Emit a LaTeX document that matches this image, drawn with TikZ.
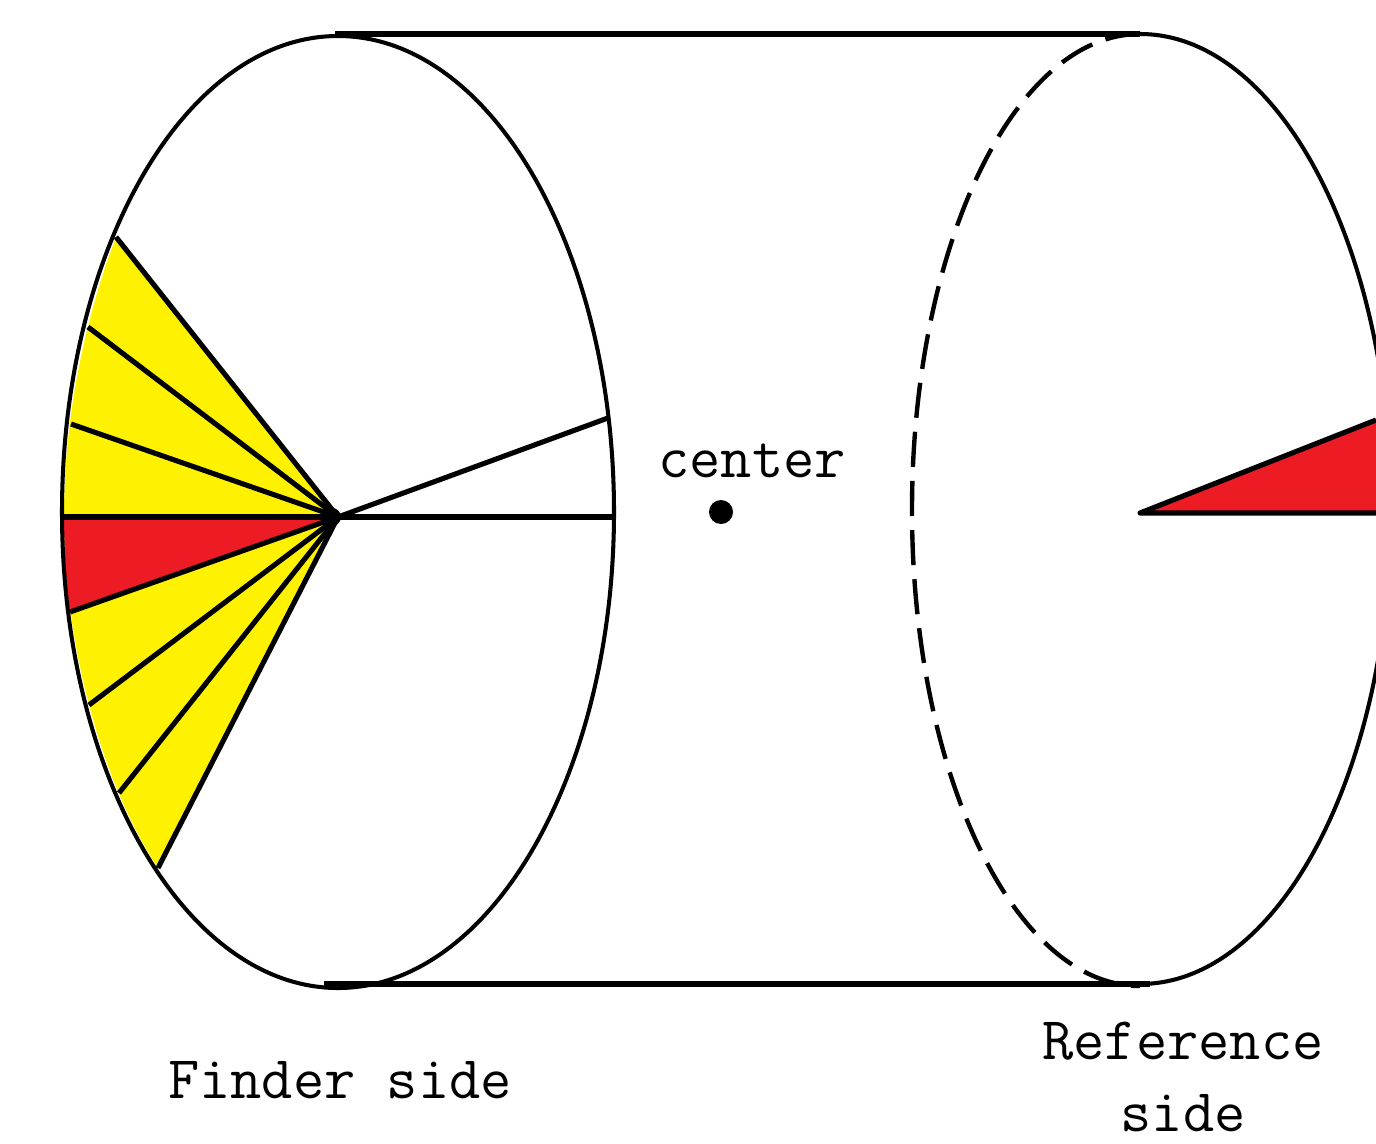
\documentclass[tikz,border=0pt]{standalone}
\usepackage{tikz}
\definecolor{wedgeyellow}{RGB}{255,242,0}
\definecolor{wedgered}{RGB}{237,28,36}
\tikzset{
  rim/.style={line width=2.3pt},
  spoke/.style={line width=2.9pt},
  sidelabel/.style={font=\fontsize{34.5}{41}\selectfont\ttfamily,align=center,inner sep=0pt}
}
\begin{document}
\begin{tikzpicture}[x=0.02cm,y=-0.02cm,line join=round]
  \def\apx{338}
  \def\apy{517}
  \useasboundingbox (0,0) rectangle (1376,1143);
  \clip (0,0) rectangle (1376,1143);

  % yellow and red sectors of the finder side
  \fill[wedgeyellow] (\apx,\apy) -- (116,237) .. controls (92,300) and (64,400) .. (64,517) .. controls (64,640) and (100,780) .. (158,868) -- cycle;
  \fill[wedgered] (\apx,\apy) -- (64,517) .. controls (64,550) and (66,585) .. (70,612) -- cycle;

  % finder side ellipse
  \draw[rim] (338,512) ellipse (276 and 476);

  % spokes
  \foreach \ex/\ey in {116/237,88/327,71/424,64/517,70/612,89/705,119/793,158/868}
    \draw[spoke] (\apx,\apy) -- (\ex,\ey);
  \draw[spoke] (\apx,\apy) -- (608,418);
  \draw[spoke] (\apx,\apy) -- (613,517);
  \fill (\apx-6,\apy) circle (9);

  % reference side
  \draw[line width=2.5pt,dash pattern=on 20pt off 8pt] (1140,510) ++(0,-476) arc (90:270:228 and -476);
  \draw[rim] (1140,34) arc (90:-90:251 and -475);
  \fill[wedgered] (1140,513) -- (1376,420) -- (1376,513) -- cycle;
  \draw[spoke] (1376,420) -- (1140,513) -- (1376,513);

  % top and bottom lines
  \draw[line width=3.4pt] (335,34) -- (1140,34);
  \draw[line width=3.4pt] (324,984) -- (1150,984);

  % center point
  \fill (721,512) circle (12);
  \node[sidelabel,font=\fontsize{34.5}{41}\fontseries{l}\selectfont\ttfamily] (centerlabel) at (752,461) {center};
  \node[sidelabel] (finderlabel) at (340,1080) {Finder side};
  \node[sidelabel] (referencelabel) at (1183,1077) {Reference\\side};
\end{tikzpicture}
\end{document}
